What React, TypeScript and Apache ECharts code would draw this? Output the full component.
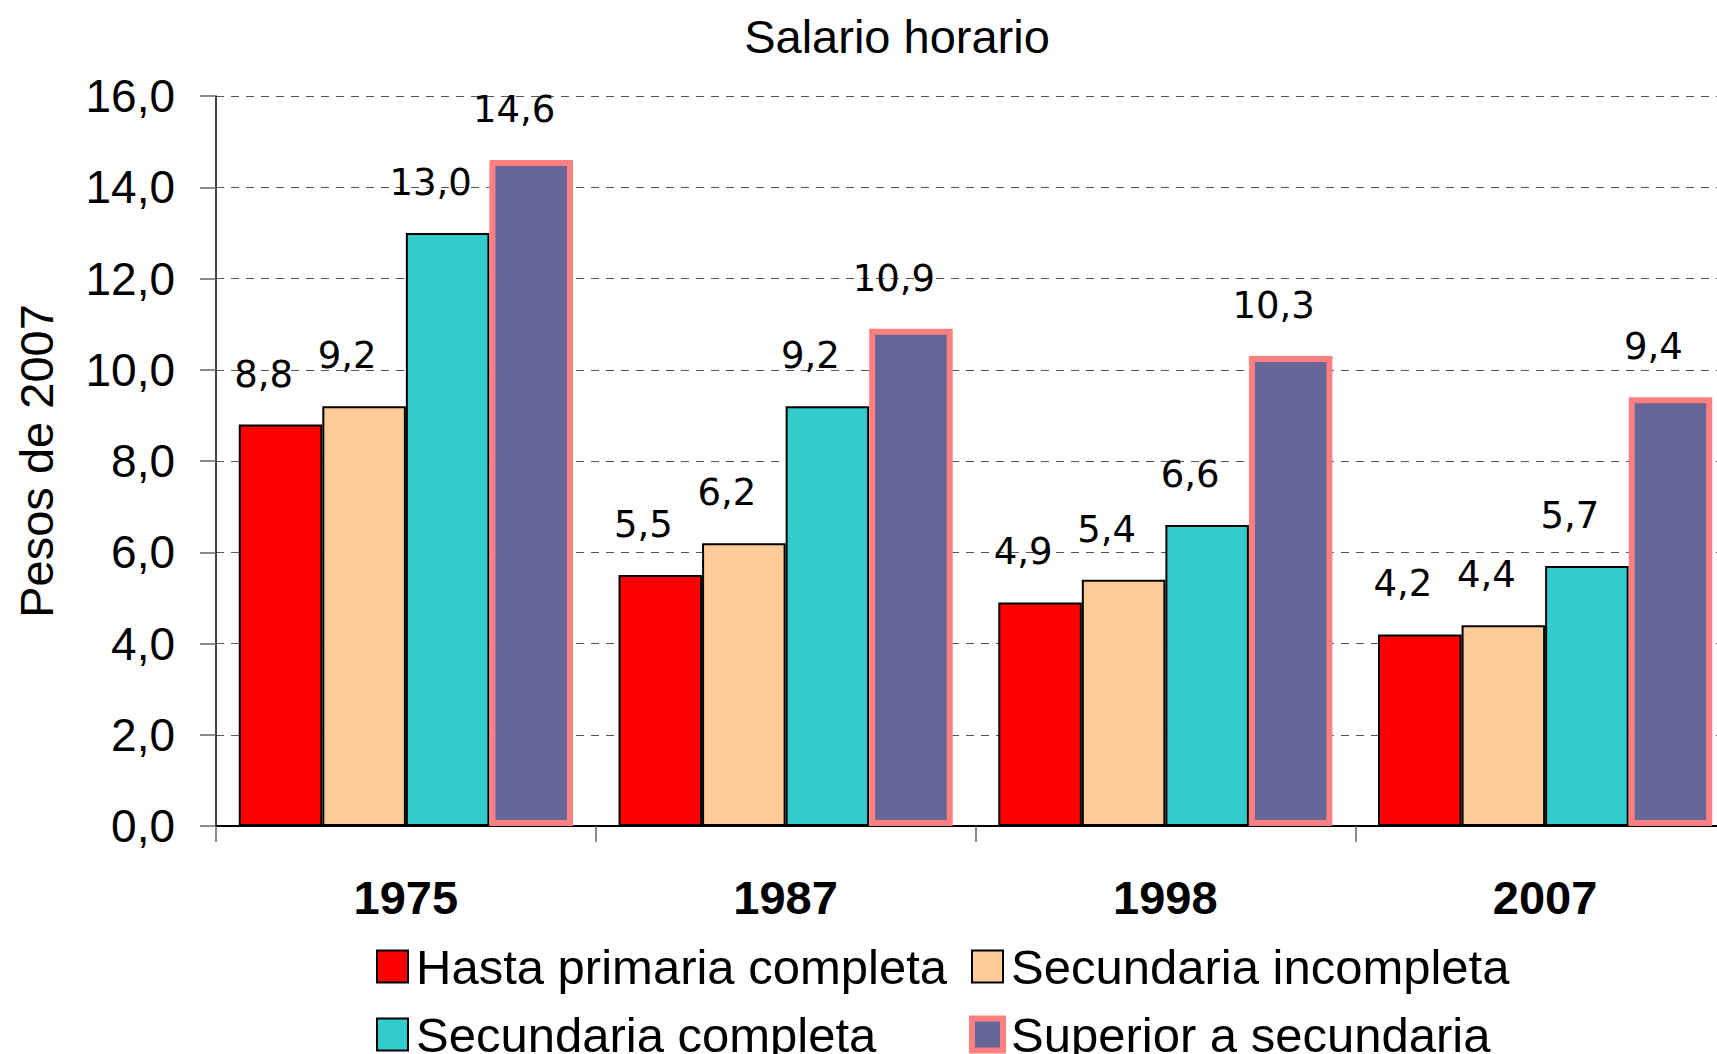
import React, { useEffect, useRef } from "react";
import * as echarts from "echarts";

const categories = ["1975", "1987", "1998", "2007"];
const seriesNames = [
  "Hasta primaria completa",
  "Secundaria incompleta",
  "Secundaria completa",
  "Superior a secundaria",
];
const primaria = [8.8, 5.5, 4.9, 4.2];
const secIncompleta = [9.2, 6.2, 5.4, 4.4];
const secCompleta = [13.0, 9.2, 6.6, 5.7];
const superior = [14.6, 10.9, 10.3, 9.4];
const yMin = 0;
const yMax = 16;
const yInterval = 2;

const fmt = (v: number) => v.toFixed(1).replace(".", ",");

export default function App() {
  const ref = useRef<HTMLDivElement>(null);
  useEffect(() => {
    if (!ref.current) return;
    const chart = echarts.init(ref.current, undefined, { renderer: "svg" });
    const sans = "'Liberation Sans', Arial, sans-serif";
    const labelStyle = {
      show: true,
      position: "top",
      distance: 5,
      offset: [-17, -27],
      fontFamily: "'DejaVu Sans', Verdana, sans-serif",
      fontSize: 37,
      color: "#000",
      formatter: (p: any) => fmt(p.value),
    };
    const mk = (name: string, data: number[], color: string, border: string, bw: number) => ({
      name,
      type: "bar",
      data,
      barGap: "0%",
      barCategoryGap: "12%",
      itemStyle: { color, borderColor: border, borderWidth: bw },
      label: labelStyle,
    });
    const legendText = {
      fontFamily: sans,
      fontSize: 49,
      color: "#000",
      lineHeight: 46,
      padding: [0, 0, 0, 3],
    };
    const legendBase = {
      orient: "vertical",
      top: 937,
      height: 200,
      itemWidth: 31,
      itemHeight: 32,
      itemGap: 19,
      icon: "rect",
      textStyle: legendText,
    };
    chart.setOption({
      animation: false,
      backgroundColor: "#fff",
      graphic: [
        {
          type: "text",
          x: 897,
          y: 36,
          style: {
            text: "Salario horario",
            fontFamily: sans,
            fontSize: 47,
            fill: "#000",
            textAlign: "center",
            textVerticalAlign: "middle",
          },
        },
      ],
      legend: [
        {
          ...legendBase,
          left: 371,
          data: [
            { name: seriesNames[0], itemStyle: { color: "#FF0000", borderColor: "#000", borderWidth: 2 } },
            { name: seriesNames[2], itemStyle: { color: "#33CCCC", borderColor: "#000", borderWidth: 2 } },
          ],
        },
        {
          ...legendBase,
          left: 964,
          data: [
            { name: seriesNames[1], itemStyle: { color: "#FFCC99", borderColor: "#000", borderWidth: 2 } },
            { name: seriesNames[3], itemStyle: { color: "#666699", borderColor: "#FF8080", borderWidth: 6 } },
          ],
        },
      ],
      grid: { left: 216, top: 96, width: 1519, height: 730, containLabel: false },
      xAxis: {
        type: "category",
        data: categories,
        axisLine: { show: true, lineStyle: { color: "#000", width: 2 } },
        axisTick: { show: true, length: 16, lineStyle: { color: "#666", width: 1.5 } },
        axisLabel: {
          margin: 48,
          fontFamily: sans,
          fontSize: 47,
          fontWeight: "bold",
          color: "#000",
        },
      },
      yAxis: {
        type: "value",
        min: yMin,
        max: yMax,
        interval: yInterval,
        name: "Pesos de 2007",
        nameLocation: "middle",
        nameGap: 156,
        nameTextStyle: { fontFamily: sans, fontSize: 47, color: "#000" },
        axisLine: { show: true, lineStyle: { color: "#000", width: 1.5 } },
        axisTick: { show: true, length: 16, lineStyle: { color: "#666", width: 1.5 } },
        axisLabel: {
          margin: 41,
          fontFamily: sans,
          fontSize: 46,
          color: "#000",
          formatter: (v: number) => fmt(v),
        },
        splitLine: { show: true, lineStyle: { color: "#555", width: 1.2, type: [8, 7] } },
      },
      series: [
        mk(seriesNames[0], primaria, "#FF0000", "#000", 2),
        mk(seriesNames[1], secIncompleta, "#FFCC99", "#000", 2),
        mk(seriesNames[2], secCompleta, "#33CCCC", "#000", 2),
        mk(seriesNames[3], superior, "#666699", "#FF8080", 6),
      ],
    });
    return () => chart.dispose();
  }, []);
  return (
    <div style={{ position: "fixed", left: 0, top: 0, width: 1717, height: 1054, overflow: "hidden", background: "#fff" }}>
      <div ref={ref} style={{ position: "absolute", left: 0, top: 0, width: 1740, height: 1054 }} />
    </div>
  );
}
